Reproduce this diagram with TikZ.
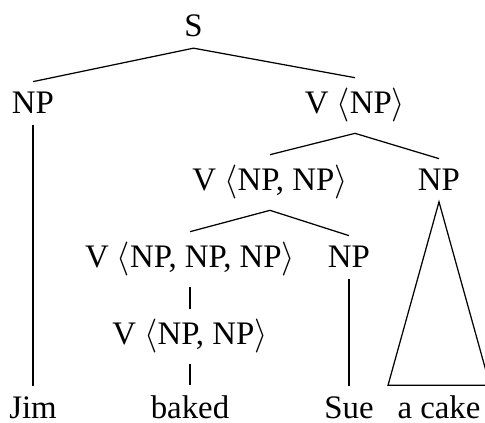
\documentclass[tikz,border=0pt]{standalone}
\usepackage{fontspec}
\setmainfont{Liberation Serif}
\usetikzlibrary{calc}
\begin{document}
\begin{tikzpicture}[x=0.3226pt,y=-0.3226pt,
  lab/.style={anchor=base,inner xsep=0pt,inner ysep=3.3pt,font=\fontsize{10.6}{12.7}\selectfont},
  edge/.style={line width=0.4pt}]
\useasboundingbox (0,0) rectangle (485,423);
\node[lab] (s) at (193.5,37) {S};
\node[lab] (np1) at (33,114) {NP};
\node[lab] (vnp) at (355,114) {V $\langle$NP$\rangle$};
\node[lab] (vnpnp) at (270,191) {V $\langle$NP, NP$\rangle$};
\node[lab] (np2) at (439,191) {NP};
\node[lab] (vnnn) at (190,268) {V $\langle$NP, NP, NP$\rangle$};
\node[lab] (np3) at (349,268) {NP};
\node[lab] (vnn2) at (190,345) {V $\langle$NP, NP$\rangle$};
\node[lab] (jim) at (33,419) {Jim};
\node[lab] (baked) at (190,419) {baked};
\node[lab] (sue) at (349,419) {Sue};
\node[lab] (cake) at (439,419) {a cake};
\draw[edge] (np1.north) -- (s.south) -- (vnp.north);
\draw[edge] (vnpnp.north) -- (vnp.south) -- (np2.north);
\draw[edge] (vnnn.north) -- (vnpnp.south) -- (np3.north);
\draw[edge] (vnnn.south) -- (vnn2.north);
\draw[edge] (vnn2.south) -- (baked.north);
\draw[edge] (np1.south) -- (jim.north);
\draw[edge] (np3.south) -- (sue.north);
\draw[edge] (np2.south) -- ($(cake.north)+(-51,0)$) -- ($(cake.north)+(51,0)$) -- cycle;
\end{tikzpicture}
\end{document}
